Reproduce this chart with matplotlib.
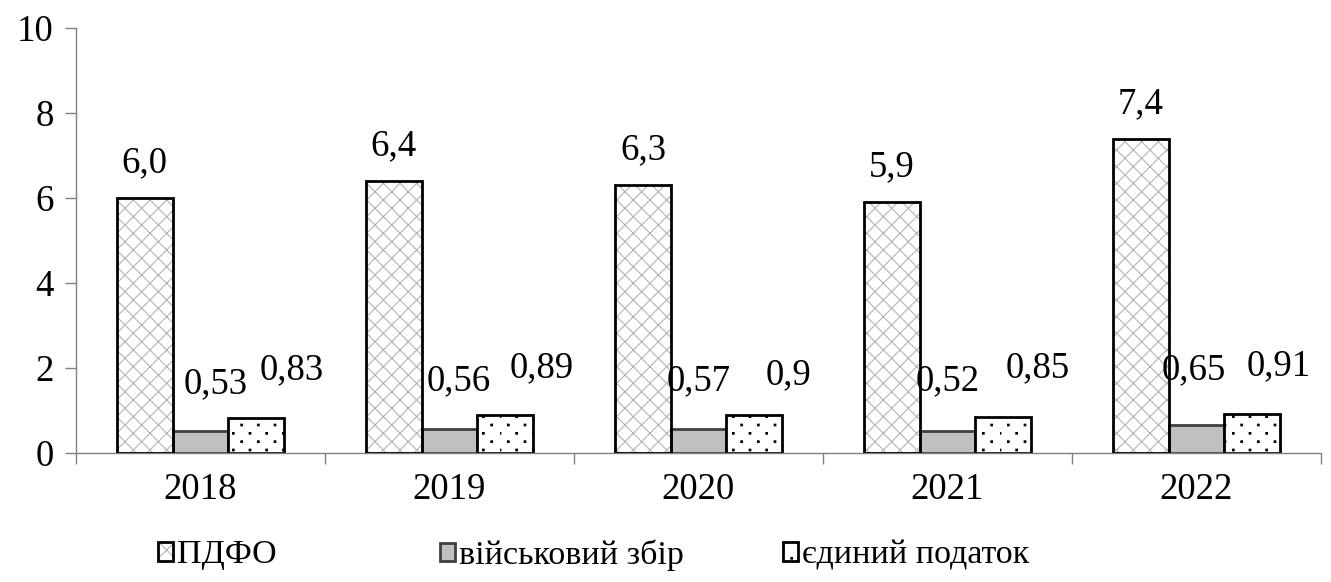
import numpy as np
import matplotlib
matplotlib.use('Agg')
import matplotlib.pyplot as plt
from matplotlib import hatch as mhatch
from matplotlib.path import Path
from matplotlib.legend_handler import HandlerTuple

plt.rcParams['font.family'] = ['Liberation Serif', 'DejaVu Serif']
plt.rcParams['hatch.linewidth'] = 0.8

years = ['2018', '2019', '2020', '2021', '2022']
pdfo = [6.0, 6.4, 6.3, 5.9, 7.4]
military = [0.53, 0.56, 0.57, 0.52, 0.65]
single_tax = [0.83, 0.89, 0.9, 0.85, 0.91]
series_names = ['ПДФО', 'військовий збір', 'єдиний податок']

# hand-placed label nudges (pixels) for the small bars
mil_dx = [15, 9, 0, 0, -3]
mil_dy = [47, 48, 48, 50, 55]
tax_dx = [36, 37, 35, 35, 27]
tax_dy = [48, 47, 40, 49, 48]

# legend entry left edges (figure fraction)
leg_x = [0.1187, 0.3306, 0.5883]


class SparseDots(mhatch.HatchPatternBase):
    # '.' hatch: staggered small square dots, rows twice as dense as columns
    def __init__(self, hatch, density):
        n = hatch.count('.') * density
        self.pts = []
        if n:
            for r in range(2 * n):
                off = 0.5 / n if r % 2 else 0.0
                for c in range(n):
                    self.pts.append((off + c / n, r / (2 * n)))
        self.num_vertices = len(self.pts) * 5

    def set_vertices_and_codes(self, vertices, codes):
        h = 0.008
        sq = np.array([[-h, -h], [h, -h], [h, h], [-h, h], [-h, -h]])
        for i, (px, py) in enumerate(self.pts):
            vertices[i * 5:(i + 1) * 5] = sq + [px, py]
            codes[i * 5:(i + 1) * 5] = [Path.MOVETO, Path.LINETO, Path.LINETO, Path.LINETO, Path.CLOSEPOLY]


mhatch._hatch_types = [SparseDots if t is mhatch.SmallFilledCircles else t for t in mhatch._hatch_types]

fs = 26.5
gray = '#808080'

fig = plt.figure(figsize=(13.31, 5.82), dpi=100)
ax = fig.add_axes([0.057, 0.2216, 0.9355, 0.7303])

x = np.arange(len(years))
w = 0.223

# ПДФО: grey cross-hatch, then black outline on top
plt.rcParams['hatch.color'] = '#b4b4b4'
b1 = ax.bar(x - w, pdfo, w, color='white', edgecolor=None, linewidth=0, hatch='xx', zorder=2)
b1e = ax.bar(x - w, pdfo, w, fill=False, edgecolor='black', linewidth=2, zorder=3)
b2 = ax.bar(x, military, w, color='#c0c0c0', edgecolor='#404040', linewidth=2, zorder=2)
b3 = ax.bar(x + w, single_tax, w, color='white', edgecolor='black', linewidth=2, hatch='.', zorder=2)

for i in range(len(years)):
    ax.annotate(f'{pdfo[i]:.1f}'.replace('.', ','), (x[i] - w, pdfo[i]),
                xytext=(0, 35), textcoords='offset pixels', ha='center', va='center', fontsize=fs)
    ax.annotate(str(military[i]).replace('.', ','), (x[i], military[i]),
                xytext=(mil_dx[i], mil_dy[i]), textcoords='offset pixels', ha='center', va='center', fontsize=fs)
    ax.annotate(str(single_tax[i]).replace('.', ','), (x[i] + w, single_tax[i]),
                xytext=(tax_dx[i], tax_dy[i]), textcoords='offset pixels', ha='center', va='center', fontsize=fs)

ax.set_xlim(-0.5, len(years) - 0.5)
ax.set_ylim(0, 10)
ax.set_yticks(np.arange(0, 11, 2))
ax.set_xticks(x)
ax.set_xticklabels(years)
ax.set_xticks(np.arange(-0.5, len(years)), minor=True)
ax.tick_params(axis='x', which='major', length=0, pad=14, labelsize=fs)
ax.tick_params(axis='x', which='minor', length=8, color=gray, width=1)
ax.tick_params(axis='y', length=8, color=gray, width=1, pad=8, labelsize=fs)

for s in ['top', 'right']:
    ax.spines[s].set_visible(False)
for s in ['left', 'bottom']:
    ax.spines[s].set_color(gray)
    ax.spines[s].set_linewidth(1)

handles = [(b1[0], b1e[0]), b2[0], b3[0]]
for h, name, lx in zip(handles, series_names, leg_x):
    fig.legend([h], [name], handler_map={tuple: HandlerTuple(ndivide=1)},
               loc='center left', bbox_to_anchor=(lx, 0.046), frameon=False,
               fontsize=24.5, handlelength=0.45, handleheight=0.45,
               handletextpad=0.1, borderpad=0, borderaxespad=0)

fig.savefig('out.png', dpi=100)
